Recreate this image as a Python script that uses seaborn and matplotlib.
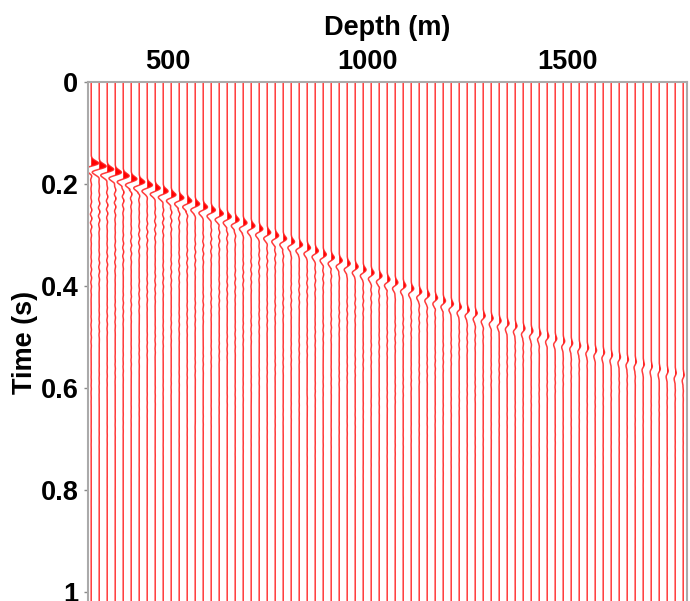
import numpy as np
import pandas as pd
import matplotlib
matplotlib.use("Agg")
import matplotlib.pyplot as plt
import seaborn as sns

# ---- data ----
depths = list(range(308, 1790, 20))  # receiver depths (m), 75 traces
arrival_times = [
    0.158, 0.164, 0.170, 0.176, 0.183, 0.189, 0.195, 0.201, 0.207, 0.213,
    0.220, 0.226, 0.232, 0.238, 0.244, 0.250, 0.257, 0.263, 0.269, 0.275,
    0.281, 0.287, 0.294, 0.300, 0.306, 0.312, 0.318, 0.324, 0.330, 0.337,
    0.343, 0.349, 0.355, 0.361, 0.367, 0.373, 0.379, 0.386, 0.392, 0.398,
    0.404, 0.410, 0.416, 0.422, 0.428, 0.434, 0.440, 0.446, 0.452, 0.457,
    0.462, 0.467, 0.472, 0.477, 0.482, 0.487, 0.492, 0.497, 0.502, 0.507,
    0.511, 0.516, 0.520, 0.525, 0.529, 0.534, 0.538, 0.543, 0.547, 0.552,
    0.556, 0.561, 0.565, 0.569, 0.573,
]
amplitudes = [
    1.5, 1.4, 1.3, 1.25, 1.2, 1.15, 1.1, 1.05, 1.0, 0.98,
    0.95, 0.92, 0.9, 0.88, 0.86, 0.84, 0.82, 0.8, 0.78, 0.76,
    0.74, 0.72, 0.7, 0.69, 0.68, 0.67, 0.66, 0.65, 0.64, 0.63,
    0.62, 0.61, 0.6, 0.59, 0.58, 0.57, 0.56, 0.55, 0.54, 0.53,
    0.51, 0.5, 0.48, 0.47, 0.46, 0.45, 0.43, 0.42, 0.41, 0.4,
    0.39, 0.38, 0.37, 0.36, 0.35, 0.34, 0.33, 0.32, 0.31, 0.3,
    0.29, 0.28, 0.27, 0.27, 0.26, 0.25, 0.25, 0.24, 0.23, 0.23,
    0.22, 0.22, 0.21, 0.21, 0.2,
]
x_ticks = [500, 1000, 1500]
y_ticks = [0, 0.2, 0.4, 0.6, 0.8, 1]
y_ticklabels = ["0", "0.2", "0.4", "0.6", "0.8", "1"]

# ---- build wiggle traces ----
spacing = 20.0
t = np.arange(0.0, 1.03, 0.0008)
rows = []
fills = []
for k, (d, t0, a) in enumerate(zip(depths, arrival_times, amplitudes)):
    tau = t - t0
    sig = 0.006
    main = -(tau - 0.007) / sig * np.exp(-((tau - 0.007) ** 2) / (2 * sig ** 2)) / 0.6065
    tail = np.where(tau > 0.022,
                    0.16 * np.exp(-(tau - 0.022) / 0.2)
                    * np.sin(2 * np.pi * 60 * (tau - 0.022) + 0.9 * k)
                    * (0.6 + 0.4 * np.cos(2 * np.pi * 9 * tau + k)),
                    0.0)
    w = a * (main + tail) * spacing * 0.62
    x = d + w
    rows.append(pd.DataFrame({"trace": k, "depth": x, "time": t}))
    fills.append((d, x))
df = pd.concat(rows, ignore_index=True)

# ---- plot ----
sns.set_theme(style="white")
plt.rcParams["font.family"] = ["Liberation Sans", "DejaVu Sans"]
plt.rcParams["text.color"] = "black"
fig = plt.figure(figsize=(6.9, 6.01), dpi=100)
ax = fig.add_axes([88 / 690, -0.002, (687 - 88) / 690, 1 - 82 / 601 + 0.002])

for d, x in fills:
    ax.fill_betweenx(t, d, x, where=x > d, color="red", lw=0, interpolate=True)

sns.lineplot(data=df, x="depth", y="time", units="trace", estimator=None,
             sort=False, color="#ff1a1a", lw=1.1, alpha=0.85, ax=ax, legend=False)

ax.set_xlim(300, 1797.5)
ax.set_ylim(1.0196, 0)
ax.xaxis.tick_top()
ax.xaxis.set_label_position("top")
ax.set_xticks(x_ticks)
ax.set_xticklabels([str(v) for v in x_ticks], fontsize=19.5, fontweight="bold", color="black")
ax.set_yticks(y_ticks)
ax.set_yticklabels(y_ticklabels, fontsize=19.5, fontweight="bold", color="black")
ax.set_xlabel("Depth (m)", fontsize=19.5, fontweight="bold", labelpad=10, color="black")
ax.set_ylabel("Time (s)", fontsize=19.5, fontweight="bold", labelpad=2, color="black")
ax.tick_params(axis="x", top=True, length=0, pad=5)
ax.tick_params(axis="y", left=True, length=3, width=1, color="#888888", pad=4, direction="out")
for s in ["top", "left", "right"]:
    ax.spines[s].set_color("#aaaaaa")
    ax.spines[s].set_linewidth(1.5)
ax.spines["bottom"].set_visible(False)

fig.savefig("out.png", dpi=100)
